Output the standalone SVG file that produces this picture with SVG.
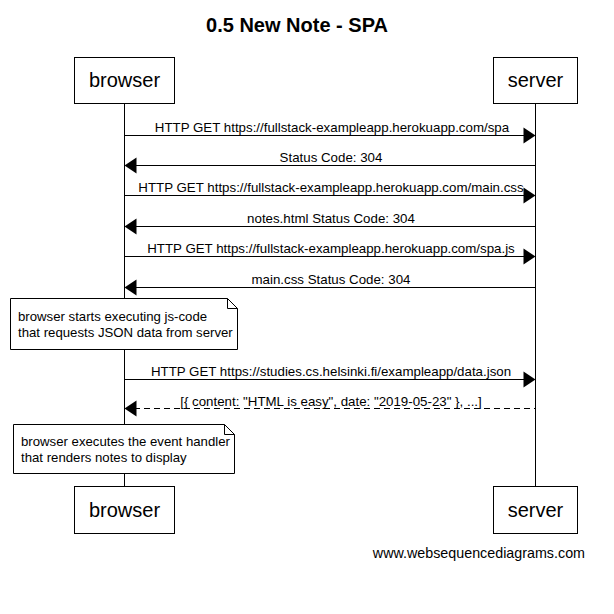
<svg xmlns="http://www.w3.org/2000/svg" width="614" height="614" viewBox="0 0 614 614">
<style>
text{font-family:"Liberation Sans",Arial,sans-serif;fill:#000}
.t{font-size:20px;font-weight:bold;text-anchor:middle}
.p{font-size:20px;text-anchor:middle}
.m{font-size:13.3px;text-anchor:middle}
.n{font-size:13.2px}
.box{fill:#fff;stroke:#000;stroke-width:1}
.life{stroke:#000;stroke-width:1}
.msg{stroke:#000;stroke-width:1;fill:none}
.dash{stroke-dasharray:6,4}
.ah{fill:#000}
</style>
<rect width="614" height="614" fill="#fff"/>
<text class="t" x="297" y="32">0.5 New Note - SPA</text>
<g id="lifelines">
<line class="life" x1="124.5" y1="103" x2="124.5" y2="486"/>
<line class="life" x1="535.5" y1="103" x2="535.5" y2="486"/>
</g>
<g id="browser-top"><rect class="box" x="74.5" y="57.5" width="100" height="46"/><text class="p" x="124.5" y="87">browser</text></g>
<g id="server-top"><rect class="box" x="493.5" y="57.5" width="84" height="46"/><text class="p" x="535.5" y="87">server</text></g>
<g id="browser-bottom"><rect class="box" x="74.5" y="486.5" width="100" height="47"/><text class="p" x="124.5" y="517">browser</text></g>
<g id="server-bottom"><rect class="box" x="493.5" y="486.5" width="84" height="47"/><text class="p" x="535.5" y="517">server</text></g>
<g id="connectors">
<line class="msg" x1="124.5" y1="135.5" x2="526" y2="135.5"/><polygon class="ah" points="535.5,135.5 523.5,127.5 523.5,143.5"/>
<text class="m" x="332" y="132">HTTP GET https://fullstack-exampleapp.herokuapp.com/spa</text>
<line class="msg" x1="134" y1="165.5" x2="535.5" y2="165.5"/><polygon class="ah" points="124.5,165.5 136.5,157.5 136.5,173.5"/>
<text class="m" x="331" y="162">Status Code: 304</text>
<line class="msg" x1="124.5" y1="195.5" x2="526" y2="195.5"/><polygon class="ah" points="535.5,195.5 523.5,187.5 523.5,203.5"/>
<text class="m" x="331" y="192">HTTP GET https://fullstack-exampleapp.herokuapp.com/main.css</text>
<line class="msg" x1="134" y1="226.5" x2="535.5" y2="226.5"/><polygon class="ah" points="124.5,226.5 136.5,218.5 136.5,234.5"/>
<text class="m" x="331" y="223">notes.html Status Code: 304</text>
<line class="msg" x1="124.5" y1="256.5" x2="526" y2="256.5"/><polygon class="ah" points="535.5,256.5 523.5,248.5 523.5,264.5"/>
<text class="m" x="331" y="253">HTTP GET https://fullstack-exampleapp.herokuapp.com/spa.js</text>
<line class="msg" x1="134" y1="287.5" x2="535.5" y2="287.5"/><polygon class="ah" points="124.5,287.5 136.5,279.5 136.5,295.5"/>
<text class="m" x="331" y="284">main.css Status Code: 304</text>
<line class="msg" x1="124.5" y1="379.5" x2="526" y2="379.5"/><polygon class="ah" points="535.5,379.5 523.5,371.5 523.5,387.5"/>
<text class="m" x="331" y="376">HTTP GET https://studies.cs.helsinki.fi/exampleapp/data.json</text>
<line class="msg dash" x1="134" y1="408.5" x2="535.5" y2="408.5"/><polygon class="ah" points="124.5,408.5 136.5,400.5 136.5,416.5"/>
<text class="m" x="331" y="406">[{ content: "HTML is easy", date: "2019-05-23" }, ...]</text>
</g>
<g id="note1">
<path class="box" d="M10.5,298.5 H227.5 L237.5,308.5 V349.5 H10.5 Z"/>
<path class="msg" d="M227.5,298.5 V308.5 H237.5"/>
<text class="n" x="18" y="321">browser starts executing js-code</text>
<text class="n" x="18" y="337">that requests JSON data from server</text>
</g>
<g id="note2">
<path class="box" d="M13.5,424.5 H224.5 L234.5,434.5 V473.5 H13.5 Z"/>
<path class="msg" d="M224.5,424.5 V434.5 H234.5"/>
<text class="n" x="21" y="446">browser executes the event handler</text>
<text class="n" x="21" y="462">that renders notes to display</text>
</g>
<text x="585" y="558" text-anchor="end" style="font-size:14.3px">www.websequencediagrams.com</text>
</svg>
